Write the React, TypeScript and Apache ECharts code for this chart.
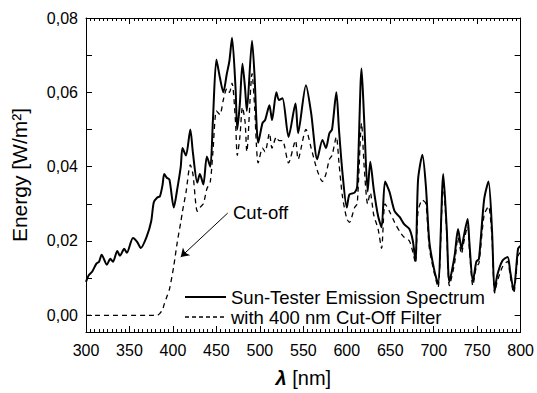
import React, { useEffect, useRef } from "react";
import * as echarts from "echarts";

const wavelength = [
  300, 303, 307, 312, 315, 318, 324, 328, 331, 336, 339, 344, 347, 354, 359, 363, 370, 375, 378, 382,
  385, 388, 390, 393, 396, 401, 405, 409, 411, 415, 420, 423, 428, 431, 435, 439, 443, 446, 450, 454,
  458, 462, 465, 468, 472, 474, 477, 480, 483, 485, 491, 494, 496, 498, 503, 506, 511, 514, 519, 522,
  526, 533, 541, 544, 553, 559, 566, 572, 576, 580, 583, 588, 591, 595, 600, 603, 609, 612, 617, 620,
  624, 627, 631, 636, 640, 644, 649, 655, 661, 666, 672, 676, 679, 682, 687, 691, 695, 701, 705, 711,
  715, 718, 724, 728, 732, 734, 739, 741, 745, 749, 752, 758, 763, 767, 770, 773, 779, 785, 788, 792,
  797, 800,
];

const sunTester = [
  0.009, 0.0107, 0.0117, 0.0139, 0.0144, 0.0163, 0.0136, 0.0152, 0.0144, 0.0173, 0.016, 0.0179, 0.0168, 0.0208, 0.0197, 0.0181, 0.0213, 0.0253, 0.0304, 0.0317,
  0.032, 0.035, 0.038, 0.037, 0.0365, 0.029, 0.034, 0.04, 0.045, 0.043, 0.05, 0.0437, 0.0357, 0.038, 0.0352, 0.0427, 0.04, 0.0525, 0.0688, 0.064,
  0.06, 0.065, 0.0685, 0.0747, 0.0613, 0.05, 0.057, 0.0677, 0.061, 0.055, 0.0739, 0.064, 0.0525, 0.0464, 0.0517, 0.0525, 0.0565, 0.0525, 0.06, 0.0579,
  0.0584, 0.048, 0.057, 0.049, 0.0619, 0.0544, 0.042, 0.0472, 0.045, 0.049, 0.05, 0.06, 0.05, 0.0384, 0.029, 0.0325, 0.033, 0.0347, 0.0664, 0.0525,
  0.0333, 0.0413, 0.0339, 0.0267, 0.0237, 0.036, 0.0333, 0.028, 0.0264, 0.0245, 0.0232, 0.02, 0.0147, 0.0365, 0.0432, 0.0347, 0.0197, 0.0117, 0.0085, 0.038,
  0.0232, 0.009, 0.016, 0.0232, 0.0179, 0.0205, 0.0259, 0.0197, 0.009, 0.0144, 0.0152, 0.0312, 0.036, 0.0232, 0.0064, 0.0107, 0.0147, 0.0157, 0.0117, 0.0067,
  0.0179, 0.0187,
];

const cutOffFilter = [
  0, 0, 0, 0, 0, 0, 0, 0, 0, 0, 0, 0, 0, 0, 0, 0, 0, 0, 0, 0,
  0.0005, 0.0015, 0.003, 0.005, 0.007, 0.0133, 0.0197, 0.025, 0.028, 0.033, 0.0405, 0.038, 0.028, 0.029, 0.03, 0.034, 0.036, 0.044, 0.055, 0.054,
  0.058, 0.061, 0.06, 0.0625, 0.052, 0.043, 0.048, 0.056, 0.052, 0.044, 0.065, 0.056, 0.046, 0.041, 0.045, 0.044, 0.049, 0.045, 0.048, 0.047,
  0.047, 0.041, 0.047, 0.042, 0.05, 0.045, 0.039, 0.036, 0.038, 0.042, 0.043, 0.048, 0.041, 0.032, 0.026, 0.025, 0.029, 0.03, 0.0517, 0.04,
  0.03, 0.033, 0.027, 0.0232, 0.018, 0.03, 0.028, 0.025, 0.0225, 0.021, 0.02, 0.017, 0.014, 0.028, 0.031, 0.03, 0.018, 0.011, 0.0075, 0.035,
  0.022, 0.008, 0.014, 0.021, 0.0165, 0.019, 0.024, 0.018, 0.008, 0.013, 0.014, 0.027, 0.0293, 0.021, 0.006, 0.009, 0.013, 0.0145, 0.0105, 0.006,
  0.016, 0.017,
];

const yLabelValues = [0, 0.02, 0.04, 0.06, 0.08];
const yTickValues = [0, 0.01, 0.02, 0.03, 0.04, 0.05, 0.06, 0.07, 0.08];
const seriesNames = ["Sun-Tester Emission Spectrum", "with 400 nm Cut-Off Filter"];
const annotationText = "Cut-off";
const arrowFrom = [463, 0.0275];
const arrowTo = [409, 0.0157];

const FONT = "'Liberation Sans', Arial, sans-serif";

export default function App() {
  const ref = useRef<HTMLDivElement>(null);
  useEffect(() => {
    document.body.style.margin = "0";
    const chart = echarts.init(ref.current!, null, { renderer: "svg" });
    const xAxisBase = {
      type: "value",
      min: 300,
      max: 800,
      interval: 50,
      axisLine: { show: true, onZero: false, lineStyle: { color: "#000", width: 1 } },
      axisTick: { show: true, inside: true, length: 6, lineStyle: { color: "#000" } },
      minorTick: { show: true, splitNumber: 10, length: 3, lineStyle: { color: "#000" } },
      splitLine: { show: false },
      minorSplitLine: { show: false },
    };
    const yAxisBase = {
      type: "value",
      min: -0.0045,
      max: 0.08,
      axisLine: { show: true, onZero: false, lineStyle: { color: "#000", width: 1 } },
      axisTick: { show: true, inside: true, length: 6, customValues: yTickValues, lineStyle: { color: "#000" } },
      splitLine: { show: false },
    };
    chart.setOption({
      animation: false,
      backgroundColor: "#fff",
      grid: { left: 86, right: 16, top: 18, bottom: 58 },
      xAxis: [
        {
          ...xAxisBase,
          position: "bottom",
          name: "{l|λ} [nm]",
          nameLocation: "middle",
          nameGap: 36,
          nameTextStyle: {
            fontFamily: FONT,
            fontSize: 20,
            color: "#000",
            rich: {
              l: { fontFamily: FONT, fontSize: 20, fontStyle: "italic", fontWeight: "bold", color: "#000" },
            },
          },
          axisLabel: { show: true, fontFamily: FONT, fontSize: 16, color: "#000", margin: 10 },
        },
        { ...xAxisBase, position: "top", axisLabel: { show: false } },
      ],
      yAxis: [
        {
          ...yAxisBase,
          position: "left",
          name: "Energy [W/m²]",
          nameLocation: "middle",
          nameGap: 56,
          nameRotate: 90,
          nameTextStyle: { fontFamily: FONT, fontSize: 21, color: "#000" },
          axisLabel: {
            show: true,
            customValues: yLabelValues,
            fontFamily: FONT,
            fontSize: 16,
            color: "#000",
            margin: 8,
            formatter: (v: number) => v.toFixed(2).replace(".", ","),
          },
        },
        { ...yAxisBase, position: "right", axisLabel: { show: false } },
      ],
      series: [
        {
          name: seriesNames[0],
          type: "line",
          data: wavelength.map((w, i) => [w, sunTester[i]]),
          showSymbol: false,
          smooth: 0.25,
          lineStyle: { color: "#000", width: 2 },
        },
        {
          name: seriesNames[1],
          type: "line",
          data: wavelength.map((w, i) => [w, cutOffFilter[i]]),
          showSymbol: false,
          smooth: 0.25,
          lineStyle: { color: "#000", width: 1.3, type: [5, 4] },
          markLine: {
            silent: true,
            animation: false,
            symbol: ["none", "arrow"],
            symbolSize: 8,
            label: { show: false },
            lineStyle: { color: "#000", width: 1, type: "solid" },
            data: [[{ coord: arrowFrom }, { coord: arrowTo }]],
          },
        },
      ],
      graphic: [
        {
          type: "line",
          shape: { x1: 185, y1: 297, x2: 226, y2: 297 },
          style: { stroke: "#000", lineWidth: 2 },
        },
        {
          type: "text",
          x: 231,
          y: 297,
          style: { text: seriesNames[0], font: `18.5px ${FONT}`, fill: "#000", verticalAlign: "middle" },
        },
        {
          type: "line",
          shape: { x1: 185, y1: 317, x2: 226, y2: 317 },
          style: { stroke: "#000", lineWidth: 1.3, lineDash: [4, 3] },
        },
        {
          type: "text",
          x: 231,
          y: 317,
          style: { text: seriesNames[1], font: `18.5px ${FONT}`, fill: "#000", verticalAlign: "middle" },
        },
        {
          type: "text",
          x: 233,
          y: 212,
          style: { text: annotationText, font: `18.5px ${FONT}`, fill: "#000", verticalAlign: "middle" },
        },
      ],
    });
    return () => chart.dispose();
  }, []);
  return <div ref={ref} style={{ width: 537, height: 393 }} />;
}
